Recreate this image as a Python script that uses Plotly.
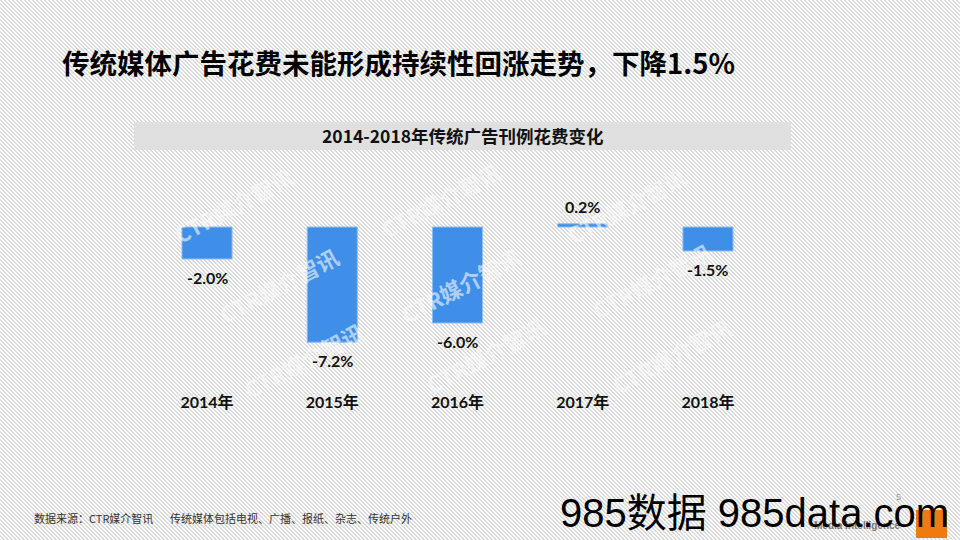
import plotly.graph_objects as go

# ---- data ----
years = ["2014年", "2015年", "2016年", "2017年", "2018年"]
changes = [-2.0, -7.2, -6.0, 0.2, -1.5]

title_text = "传统媒体广告花费未能形成持续性回涨走势，下降1.5%"
subtitle_text = "2014-2018年传统广告刊例花费变化"
source_text = "数据来源：CTR媒介智讯"
note_text = "传统媒体包括电视、广播、报纸、杂志、传统户外"
wm_text = "CTR媒介智讯"

W, H = 960, 540
CJK = "Noto Sans CJK SC"
NUM = "Lato, Noto Sans CJK SC"


def px_x(x):
    return x / W


def px_y(y):
    return 1 - y / H


# hatched background ("\" direction), drawn in a full-page pixel axis
step = 4
hx, hy = [], []
for k in range(-H, W + 1, step):
    hx += [k + 0.5, k + H + 0.5, None]
    hy += [0, H, None]

fig = go.Figure()
fig.add_trace(go.Scatter(
    x=hx, y=hy, mode="lines", xaxis="x", yaxis="y",
    line=dict(color="#b8b8b8", width=1),
    hoverinfo="skip", showlegend=False,
))
fig.add_trace(go.Bar(
    x=years, y=changes, xaxis="x2", yaxis="y2",
    marker=dict(color="#3F8FE8", line=dict(color="#8dbdf2", width=1)),
    width=0.4,
    hoverinfo="skip",
))

fig.update_layout(
    width=W, height=H,
    margin=dict(l=0, r=0, t=0, b=0),
    paper_bgcolor="white",
    plot_bgcolor="rgba(0,0,0,0)",
    showlegend=False,
    xaxis=dict(domain=[0, 1], range=[0, W], visible=False, fixedrange=True),
    yaxis=dict(domain=[0, 1], range=[H, 0], visible=False, fixedrange=True),
    xaxis2=dict(
        domain=[px_x(144.4), px_x(770.6)], anchor="y2",
        range=[-0.5, 4.5],
        showgrid=False, zeroline=False, showline=False, ticks="",
        tickfont=dict(family=NUM, size=16, color="#111111", weight="bold"),
        ticklabelstandoff=4,
    ),
    yaxis2=dict(
        domain=[px_y(387), px_y(195)], anchor="x2",
        range=[-10, 2],
        showgrid=False, zeroline=False, showline=False,
        showticklabels=False, ticks="",
    ),
    shapes=[
        dict(type="rect", xref="paper", yref="paper",
             x0=px_x(134), x1=px_x(791), y0=px_y(150), y1=px_y(122),
             fillcolor="#e0e0e0", line=dict(width=0), layer="above"),
        dict(type="rect", xref="paper", yref="paper",
             x0=px_x(916), x1=px_x(947), y0=px_y(538), y1=px_y(510),
             fillcolor="#ee7a12", line=dict(width=0), layer="above"),
    ],
)

ann = []
# watermarks
wm_pos = [(165, 205), (440, 200), (695, 205),
          (210, 285), (460, 285), (720, 280),
          (235, 360), (485, 355), (740, 355)]
for (x, y) in wm_pos:
    ann.append(dict(text=wm_text, x=px_x(x), y=px_y(y), xref="paper", yref="paper",
                    showarrow=False, textangle=-28,
                    font=dict(family=CJK, size=22, color="rgba(250,250,250,0.6)", weight="bold")))
# value labels (data coordinates)
for yr, v in zip(years, changes):
    ann.append(dict(text=f"{v:.1f}%", x=yr, y=v, xref="x2", yref="y2",
                    showarrow=False, yanchor="middle",
                    yshift=17 if v >= 0 else -18,
                    font=dict(family=NUM, size=16, color="#111111", weight="bold")))
# title
ann.append(dict(text=title_text, x=px_x(60), y=px_y(62), xref="paper", yref="paper",
                xanchor="left", yanchor="middle", showarrow=False,
                font=dict(family=CJK, size=27.5, color="#000000", weight="bold")))
# subtitle
ann.append(dict(text=subtitle_text, x=px_x(463), y=px_y(136), xref="paper", yref="paper",
                xanchor="center", yanchor="middle", showarrow=False,
                font=dict(family=CJK, size=17.5, color="#111111", weight="bold")))
# footer
ann.append(dict(text=source_text, x=px_x(32), y=px_y(518), xref="paper", yref="paper",
                xanchor="left", yanchor="middle", showarrow=False,
                font=dict(family=CJK, size=11, color="#333333")))
ann.append(dict(text=note_text, x=px_x(168), y=px_y(518), xref="paper", yref="paper",
                xanchor="left", yanchor="middle", showarrow=False,
                font=dict(family=CJK, size=11, color="#333333")))
# logo bits
ann.append(dict(text="Media Intelligence", x=px_x(903), y=px_y(525), xref="paper", yref="paper",
                xanchor="right", yanchor="middle", showarrow=False,
                font=dict(family="Liberation Sans", size=10, color="#777777", weight="bold")))
ann.append(dict(text="5", x=px_x(898), y=px_y(497), xref="paper", yref="paper",
                xanchor="center", yanchor="middle", showarrow=False,
                font=dict(family="Liberation Sans", size=9, color="#999999")))
# overlay watermark
ann.append(dict(text="985数据 985data.com", x=px_x(951), y=px_y(513), xref="paper", yref="paper",
                xanchor="right", yanchor="middle", showarrow=False,
                font=dict(family="Liberation Sans, Noto Sans CJK SC", size=40, color="#000000")))
fig.update_layout(annotations=ann)

fig.write_html("out.html")
